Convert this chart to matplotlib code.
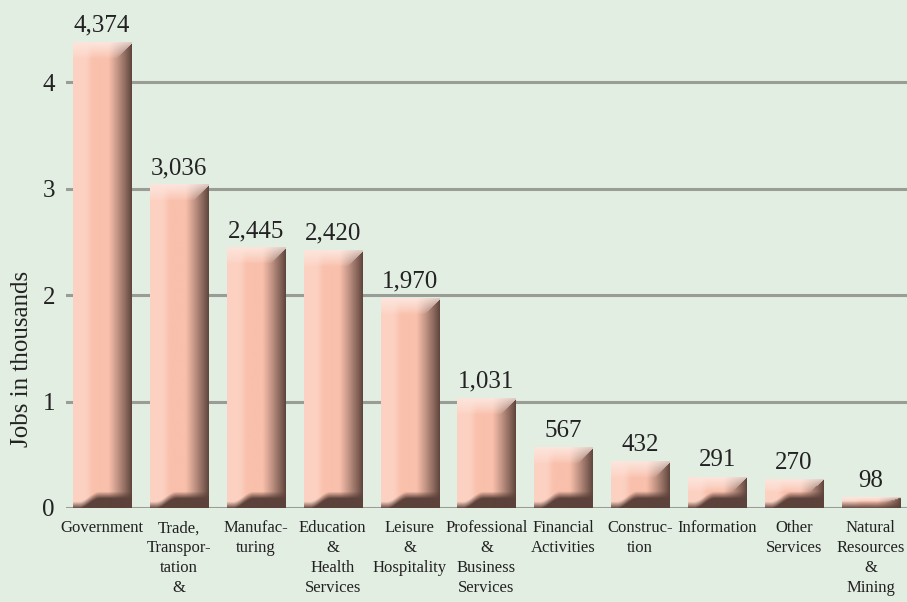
import numpy as np
import matplotlib
matplotlib.use("Agg")
import matplotlib.pyplot as plt

categories = ["Government", "Trade,\nTranspor-\ntation\n&", "Manufac-\nturing",
              "Education\n&\nHealth\nServices", "Leisure\n&\nHospitality",
              "Professional\n&\nBusiness\nServices", "Financial\nActivities",
              "Construc-\ntion", "Information", "Other\nServices",
              "Natural\nResources\n&\nMining"]
jobs = [4374, 3036, 2445, 2420, 1970, 1031, 567, 432, 291, 270, 98]
yticks = [0, 1, 2, 3, 4]

BG = "#e3eee3"
plt.rcParams["font.family"] = ["Liberation Serif", "DejaVu Serif"]


def smooth(a, b, v):
    t = np.clip((v - a) / (b - a), 0, 1)
    return t * t * (3 - 2 * t)


def bar_shade(h_px, w_px):
    # rough 3D look: light cap, dark right side, dark shadow at the foot
    H = max(int(round(h_px)), 2)
    W = max(int(round(w_px)), 2)
    yy, xx = np.mgrid[0:H, 0:W].astype(float)
    u = (xx + 0.5) / W
    light = np.array([252, 209, 194]) / 255
    mid = np.array([249, 192, 172]) / 255
    dark = np.array([94, 68, 60]) / 255
    cap_c = np.array([253, 229, 220]) / 255
    foot = np.array([92, 66, 58]) / 255

    t1 = smooth(0.2, 0.36, u)[..., None]
    img = light * (1 - t1) + mid * t1
    t2 = (np.clip((u - 0.6) / 0.4, 0, 1) ** 1.1)[..., None]
    side = img * (1 - t2) + dark * t2

    cap = min(16.0, H * 0.45)
    xb = W - 15 * (yy / max(cap, 1))
    in_cap = (yy < cap) & (xx < xb)
    f = (np.clip(1 - yy / max(cap, 1), 0, 1) ** 0.8)[..., None]
    cap_cu = cap_c * (1 - 0.12 * t2)
    cap_img = side * (1 - f) + cap_cu * f
    out = np.where(in_cap[..., None], cap_img, side)

    b = H - 1 - yy
    s = 6 + 10 * smooth(0.1, 0.45, u)
    s = np.minimum(s, H * 0.6)
    g = np.clip((s - b) / 7.0, 0, 1)[..., None]
    out = out * (1 - g) + foot * g
    return np.clip(out, 0, 1)


fig = plt.figure(figsize=(9.07, 6.02), dpi=100, facecolor=BG)
ax = fig.add_axes([66 / 907, 94 / 602, 841 / 907, 508 / 602])
ax.set_facecolor(BG)

x = np.arange(len(categories))
vals = np.array(jobs) / 1000
bars = ax.bar(x, vals, width=0.755, color="#f9c1ad", zorder=2)
ax.set_xlim(-0.47, len(categories) - 0.53)
ax.set_ylim(0, 4.77)

fig.canvas.draw()
for b in bars:
    x0 = b.get_x()
    w, h = b.get_width(), b.get_height()
    p0 = ax.transData.transform((x0, 0))
    p1 = ax.transData.transform((x0 + w, h))
    im = bar_shade(p1[1] - p0[1], p1[0] - p0[0])
    ax.imshow(im, extent=(x0, x0 + w, 0, h), origin="upper", aspect="auto",
              interpolation="bilinear", zorder=3)
    b.set_visible(False)

for xi, v, n in zip(x, vals, jobs):
    ax.annotate(f"{n:,}", (xi, v), xytext=(0, 4), textcoords="offset points",
                ha="center", va="bottom", fontsize=18, color="#222222")

ax.set_aspect("auto")
ax.set_xlim(-0.47, len(categories) - 0.53)
ax.set_ylim(0, 4.77)

ax.set_yticks(yticks)
ax.set_yticklabels([str(t) for t in yticks], fontsize=18, color="#222222")
ax.yaxis.grid(True, color="#999d96", linewidth=2.2)
ax.set_axisbelow(True)
ax.tick_params(axis="y", length=0, pad=8)

ax.set_xticks(x)
ax.set_xticklabels(categories, fontsize=12, color="#222222", linespacing=1.32,
                   va="top")
ax.tick_params(axis="x", length=0, pad=9)

for sp in ax.spines.values():
    sp.set_visible(False)

fig.text(22 / 907, 1 - 359 / 602, "Jobs in thousands", rotation=90,
         ha="center", va="center", fontsize=18, color="#222222")

fig.savefig("out.png", dpi=100, facecolor=BG)
